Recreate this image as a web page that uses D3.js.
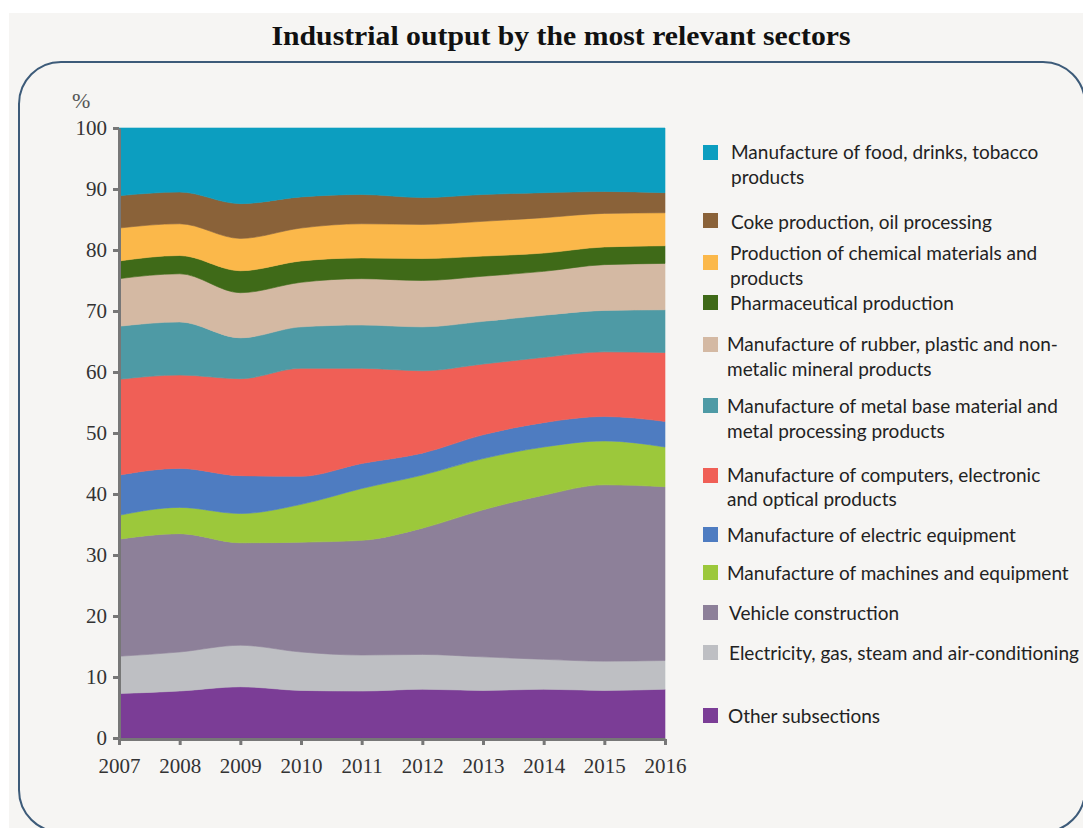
<!DOCTYPE html>
<html>
<head>
<meta charset="utf-8">
<script src="https://cdn.jsdelivr.net/npm/d3@7"></script>
<style>
  html, body { margin: 0; padding: 0; background: #ffffff; }
  svg { display: block; }
</style>
</head>
<body>
<svg id="chart" width="1083" height="828"></svg>
<script>
// Years on the horizontal axis
const years = [2007, 2008, 2009, 2010, 2011, 2012, 2013, 2014, 2015, 2016];

// Share of industrial output per sector, % (bottom of the stack first)
const otherSubsections   = [7.3, 7.7, 8.4, 7.8, 7.7, 8.0, 7.8, 8.0, 7.8, 8.0];
const electricityGas     = [6.1, 6.4, 6.8, 6.3, 5.9, 5.7, 5.5, 4.9, 4.8, 4.7];
const vehicleConstr      = [19.2, 19.4, 16.8, 18.0, 18.8, 20.7, 24.1, 26.9, 28.9, 28.5];
const machinesEquipment  = [3.9, 4.3, 4.8, 6.2, 8.5, 8.7, 8.4, 7.9, 7.2, 6.5];
const electricEquipment  = [6.6, 6.4, 6.2, 4.6, 4.1, 3.6, 3.9, 4.0, 4.0, 4.2];
const computersOptical   = [15.7, 15.3, 15.9, 17.7, 15.6, 13.5, 11.6, 10.7, 10.6, 11.3];
const metalProcessing    = [8.7, 8.7, 6.7, 6.8, 7.1, 7.2, 7.0, 6.9, 6.8, 7.0];
const rubberPlastic      = [7.8, 7.9, 7.4, 7.3, 7.6, 7.6, 7.4, 7.2, 7.5, 7.6];
const pharmaceutical     = [2.9, 3.0, 3.6, 3.5, 3.4, 3.6, 3.3, 3.0, 2.9, 2.9];
const chemicalProducts   = [5.4, 5.2, 5.3, 5.4, 5.6, 5.6, 5.7, 5.8, 5.5, 5.4];
const cokeOil            = [5.3, 5.2, 5.7, 5.1, 4.8, 4.4, 4.4, 4.1, 3.6, 3.3];
const foodDrinksTobacco  = [11.1, 10.5, 12.4, 11.3, 10.9, 11.4, 10.9, 10.6, 10.4, 10.6];

// Tick values of the percentage axis
const yTicks = [0, 10, 20, 30, 40, 50, 60, 70, 80, 90, 100];

// Series in stacking order, with legend labels (lines of text)
const series = [
  { key: "other",     values: otherSubsections,  label: ["Other subsections"] },
  { key: "elec",      values: electricityGas,    label: ["Electricity, gas, steam and air-conditioning"] },
  { key: "vehicle",   values: vehicleConstr,     label: ["Vehicle construction"] },
  { key: "machines",  values: machinesEquipment, label: ["Manufacture of machines and equipment"] },
  { key: "electric",  values: electricEquipment, label: ["Manufacture of electric equipment"] },
  { key: "computers", values: computersOptical,  label: ["Manufacture of computers, electronic", "and optical products"] },
  { key: "metal",     values: metalProcessing,   label: ["Manufacture of metal base material and", "metal processing products"] },
  { key: "rubber",    values: rubberPlastic,     label: ["Manufacture of rubber, plastic and non-", "metalic mineral products"] },
  { key: "pharma",    values: pharmaceutical,    label: ["Pharmaceutical production"] },
  { key: "chem",      values: chemicalProducts,  label: ["Production of chemical materials and", "products"] },
  { key: "coke",      values: cokeOil,           label: ["Coke production, oil processing"] },
  { key: "food",      values: foodDrinksTobacco, label: ["Manufacture of food, drinks, tobacco", "products"] }
];

const colors = {
  other: "#7b3d96", elec: "#bebfc3", vehicle: "#8d8099", machines: "#9cc83b",
  electric: "#4e7cc1", computers: "#f05f56", metal: "#4e9aa5", rubber: "#d4b9a3",
  pharma: "#3f6a18", chem: "#fbb84a", coke: "#8a6239", food: "#0c9ec0"
};

// Legend row layout, top to bottom: swatch top, first baseline, line gap, text x
const legendRows = [
  { key: "food",      top: 145, base: 159, gap: 25, tx: 731 },
  { key: "coke",      top: 213, base: 229, gap: 25, tx: 731 },
  { key: "chem",      top: 255, base: 260, gap: 25, tx: 730 },
  { key: "pharma",    top: 295, base: 310, gap: 25, tx: 730 },
  { key: "rubber",    top: 337, base: 351, gap: 25, tx: 727 },
  { key: "metal",     top: 398, base: 413, gap: 25, tx: 727 },
  { key: "computers", top: 468, base: 482, gap: 24, tx: 727 },
  { key: "electric",  top: 527, base: 542, gap: 25, tx: 727 },
  { key: "machines",  top: 565, base: 580, gap: 25, tx: 727 },
  { key: "vehicle",   top: 605, base: 620, gap: 25, tx: 729 },
  { key: "elec",      top: 645, base: 660, gap: 25, tx: 729 },
  { key: "other",     top: 708, base: 723, gap: 25, tx: 728 }
];

const svg = d3.select("#chart");

// Page backdrop and rounded frame
svg.append("rect").attr("x", 9).attr("y", 13).attr("width", 1074).attr("height", 815)
  .attr("fill", "#f6f5f3");
svg.append("rect").attr("x", 19).attr("y", 62).attr("width", 1066).attr("height", 770)
  .attr("rx", 42).attr("ry", 42)
  .attr("fill", "none").attr("stroke", "#3d5b79").attr("stroke-width", 2);

// Title
svg.append("text")
  .attr("x", 561).attr("y", 45)
  .attr("text-anchor", "middle")
  .attr("font-family", "'Liberation Serif', 'Times New Roman', serif")
  .attr("font-weight", "bold")
  .attr("font-size", 27)
  .attr("fill", "#111")
  .attr("textLength", 579)
  .attr("lengthAdjust", "spacingAndGlyphs")
  .text("Industrial output by the most relevant sectors");

// Scales
const x = d3.scalePoint().domain(years).range([119, 665]);
const y = d3.scaleLinear().domain([0, 100]).range([738, 128]);

// Stack the series
const table = years.map((yr, i) => {
  const row = { year: yr };
  series.forEach(s => { row[s.key] = s.values[i]; });
  return row;
});
const stacked = d3.stack().keys(series.map(s => s.key))(table);

const area = d3.area()
  .x(d => x(d.data.year))
  .y0(d => y(d[0]))
  .y1(d => y(d[1]))
  .curve(d3.curveMonotoneX);

svg.append("g").selectAll("path")
  .data(stacked)
  .join("path")
  .attr("d", area)
  .attr("fill", d => colors[d.key])
  .attr("stroke", d => colors[d.key])
  .attr("stroke-width", 0.6);

// Axes
const tickFont = "'Liberation Serif', 'Times New Roman', serif";
const yAxis = svg.append("g")
  .attr("transform", "translate(119,0)")
  .call(d3.axisLeft(y).tickValues(yTicks).tickSize(6).tickPadding(5).tickSizeOuter(0));
const xAxis = svg.append("g")
  .attr("transform", "translate(0,739)")
  .call(d3.axisBottom(x).tickSize(6).tickPadding(13).tickSizeOuter(0).tickFormat(d3.format("d")));

[yAxis, xAxis].forEach(g => {
  g.select(".domain").attr("stroke", "#777").attr("stroke-width", 3);
  g.selectAll(".tick line").attr("stroke", "#777").attr("stroke-width", 3);
  g.selectAll(".tick text")
    .attr("font-family", tickFont)
    .attr("font-size", 21)
    .attr("fill", "#333");
});
yAxis.selectAll(".tick text").attr("dx", "-1");

// Unit label
svg.append("text")
  .attr("x", 72).attr("y", 108)
  .attr("font-family", tickFont)
  .attr("font-size", 22)
  .attr("fill", "#555")
  .text("%");

// Legend
const byKey = Object.fromEntries(series.map(s => [s.key, s]));
const legend = svg.append("g");
legendRows.forEach(r => {
  legend.append("rect")
    .attr("x", 703).attr("y", r.top)
    .attr("width", 15).attr("height", 15)
    .attr("fill", colors[r.key]);
  const t = legend.append("text")
    .attr("font-family", "Lato, 'Open Sans', sans-serif")
    .attr("font-size", 19)
    .attr("fill", "#222");
  byKey[r.key].label.forEach((line, i) => {
    t.append("tspan")
      .attr("x", r.tx)
      .attr("y", r.base + i * r.gap)
      .text(line);
  });
});
</script>
</body>
</html>
